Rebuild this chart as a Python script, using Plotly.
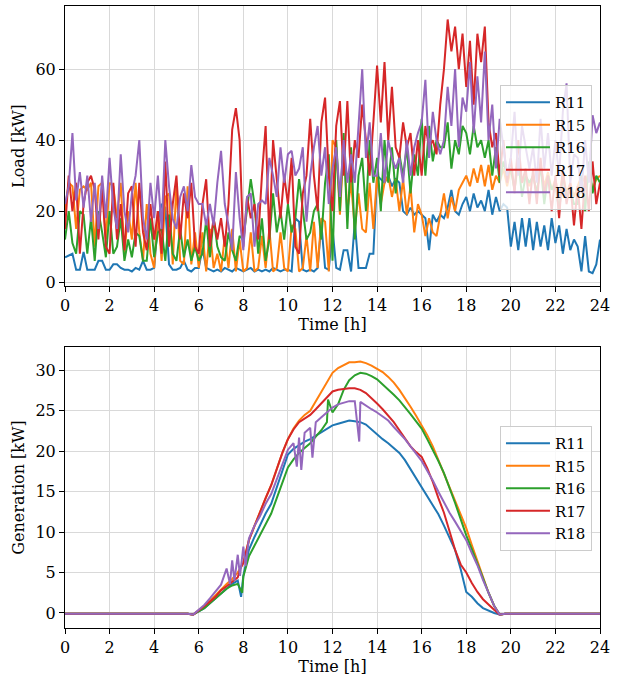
import numpy as np
import plotly.graph_objects as go

names = ["R11", "R15", "R16", "R17", "R18"]
colors = ["#1f77b4", "#ff7f0e", "#2ca02c", "#d62728", "#9467bd"]

# ---------------- Load data (kW), 10-min steps from 0 h to 24 h ----------------
R11_load = [7, 7.5, 8, 3.5, 3.5, 8.5, 3.5, 3.5, 3.5, 6, 6, 3.5,
            3.5, 5, 5, 4, 3.5, 3.5, 3, 4, 3.5, 6, 3.5, 3.5,
            4, 17, 22, 21, 5, 3.5, 3.5, 4, 6, 3.5, 3, 4,
            4, 9.5, 4, 3.5, 3, 3.5, 3, 4, 3.5, 3, 4, 3.5,
            3, 3.5, 4, 3, 3.5, 3, 3.5, 3, 4, 3.5, 3, 3.5,
            3.5, 3, 18, 17, 3.5, 3, 3.5, 3, 4, 16.5, 4, 3.5,
            15, 4, 3.5, 9, 9, 3, 17, 4, 4, 4, 8, 8,
            30, 29, 28, 30, 27, 29, 28, 20, 19, 21, 19, 20,
            19, 18, 9, 19, 17, 19, 18, 21, 26, 20, 19, 22,
            24, 20, 25, 21, 23, 20, 26, 19, 24, 20, 22, 21,
            10, 17, 9, 18, 10, 18, 9, 17, 10, 16, 9, 18,
            11, 16, 8, 15, 9, 12, 10, 3, 13, 3, 2.5, 5, 12]
R15_load = [20, 28, 27, 15, 26, 27, 26, 28, 10, 27, 28, 12,
            28, 27, 18, 28, 8, 20, 12, 28, 14, 6, 22, 8,
            4, 20, 6, 24, 25, 5, 28, 6, 5, 27, 5, 14,
            4, 14, 3, 15, 4, 8, 3, 13, 4, 15, 3, 12,
            3, 4, 14, 3, 4, 13, 4, 15, 3, 4, 14, 4,
            3, 16, 15, 3, 4, 13, 3, 17, 4, 18, 17, 3,
            40, 38, 19, 38, 20, 28, 15, 25, 15, 14, 28, 15,
            30, 22, 28, 30, 24, 29, 20, 29, 19, 27, 14, 22,
            19, 13, 18, 14, 13, 19, 25, 18, 24, 20, 26, 28,
            30, 27, 32, 28, 33, 27, 33, 26, 30, 28, 32, 27,
            32, 26, 34, 28, 30, 27, 30, 25, 33, 27, 31, 26,
            29, 24, 31, 25, 28, 24, 27, 30, 28, 31, 26, 29, 30]
R16_load = [12, 20, 11, 8, 20, 19, 8, 18, 6, 20, 14, 7,
            20, 8, 10, 18, 6, 12, 7, 14, 13, 6, 6, 18,
            7, 14, 15, 6, 19, 8, 6, 15, 7, 12, 6, 10,
            6, 8, 17.5, 7, 18, 10, 7, 6, 14, 9, 6, 13,
            12, 20, 29, 22, 8, 18, 6, 12, 25, 14, 20, 12,
            22, 14, 18, 29, 20, 12, 14, 20, 22, 12, 28, 36,
            6, 40, 20, 42, 15, 38, 12, 30, 35, 20, 40, 28,
            35, 20, 40, 28, 38, 25, 36, 30, 38, 25, 36, 30,
            46, 30, 44, 34, 40, 38, 38, 45, 32, 40, 36, 44,
            42, 36, 44, 38, 40, 35, 40, 30, 38, 28, 34, 30,
            32, 26, 35, 24, 30, 28, 30, 25, 33, 22, 30, 26,
            28, 20, 30, 24, 26, 22, 22, 30, 20, 34, 25, 30, 28]
R17_load = [15, 30, 20, 28, 8, 22, 28, 30, 26, 12, 27, 10,
            8, 28, 12, 22, 9, 25, 27, 10, 28, 14, 9, 22,
            12, 20, 8, 34, 10, 22, 30, 12, 25, 18, 28, 10,
            8, 22, 29, 10, 18, 12, 18, 10, 22, 43, 49, 40,
            10, 24, 18, 22, 12, 30, 44, 12, 40, 28, 18, 30,
            22, 35, 10, 8, 25, 30, 46, 30, 20, 45, 52, 30,
            20, 44, 51, 30, 51, 28, 40, 35, 50, 40, 30, 45,
            61, 45, 62, 40, 55, 38, 35, 45, 38, 42, 30, 40,
            30, 44, 38, 40, 36, 50, 60, 74, 65, 72, 60, 70,
            55, 68, 50, 70, 62, 72, 45, 38, 42, 30, 40, 28,
            35, 25, 40, 28, 32, 22, 32, 22, 35, 25, 30, 20,
            30, 18, 32, 22, 28, 16, 27, 15, 30, 20, 34, 22, 28]
R18_load = [22, 27, 42, 23, 31, 21, 30, 17, 28, 15, 30, 18,
            35, 21, 15, 36, 20, 14, 25, 30, 40, 18, 12, 28,
            18, 30, 15, 40, 27, 18, 15, 24, 27, 20, 33, 24,
            22, 22, 16, 22, 16, 28, 37, 22, 16, 9, 31, 18,
            9, 24, 25, 10, 22, 23, 22, 35, 30, 24, 38, 28,
            36, 37, 30, 32, 38, 17, 30, 38, 44, 30, 38, 22,
            32, 38, 24, 40, 28, 36, 28, 45, 60, 35, 45, 30,
            30, 42, 28, 40, 35, 32, 35, 28, 40, 30, 38, 42,
            45, 57, 35, 48, 40, 36, 40, 55, 44, 60, 38, 52,
            48, 62, 42, 58, 45, 65, 40, 50, 32, 46, 38, 30,
            35, 48, 30, 44, 38, 32, 38, 28, 46, 32, 42, 30,
            40, 30, 48, 56, 28, 36, 35, 25, 40, 28, 47, 42, 45]

# ---------------- Generation data (kW) ----------------
gen_time = [0, 5.5, 5.75, 6.0, 6.25, 6.5, 6.75, 7.0, 7.25, 7.5, 7.75, 8.0, 8.25, 8.5, 8.75,
            9.0, 9.25, 9.5, 9.75, 10.0, 10.25, 10.5, 10.75, 11.0, 11.25, 11.5, 11.75,
            12.0, 12.25, 12.5, 12.75, 13.0, 13.25, 13.5, 13.75, 14.0, 14.25, 14.5, 14.75,
            15.0, 15.25, 15.5, 15.75, 16.0, 16.25, 16.5, 16.75, 17.0, 17.25, 17.5, 17.75,
            18.0, 18.25, 18.5, 18.75, 19.0, 19.25, 19.5, 19.75, 24]
R11_gen = [-0.1, -0.1, -0.2, 0.2, 0.6, 1.2, 1.8, 2.5, 3.0, 3.6, 4.0, 4.6, 7.8, 9.4, 10.9,
           12.3, 13.5, 15.5, 17.7, 19.6, 20.3, 20.8, 21.2, 21.5, 21.9, 22.3, 22.7,
           23.2, 23.4, 23.6, 23.8, 23.7, 23.6, 23.3, 22.7, 22.0, 21.5, 21.0, 20.4,
           19.8, 18.9, 17.8, 16.7, 15.6, 14.5, 13.4, 12.2, 10.8, 9.3, 7.8, 5.4,
           2.6, 2.0, 1.2, 0.6, 0.3, 0.0, -0.2, -0.1, -0.1]
R15_gen = [-0.1, -0.1, -0.2, 0.3, 0.8, 1.5, 2.2, 3.0, 3.6, 4.2, 5.0, 6.2, 9.0, 10.8, 12.6,
           14.2, 15.8, 17.8, 19.8, 21.5, 22.8, 23.8, 24.5, 25.0, 26.2, 27.4, 28.6,
           29.7, 30.3, 30.7, 31.0, 31.0, 31.1, 30.9, 30.6, 30.2, 29.8, 29.2, 28.5,
           27.6, 26.6, 25.5, 24.4, 23.2, 22.0, 20.6, 18.9, 17.3, 15.6, 13.9, 12.2,
           10.5, 8.4, 6.4, 4.3, 2.5, 0.9, -0.2, -0.1, -0.1]
R16_gen = [-0.1, -0.1, -0.2, 0.2, 0.6, 1.2, 1.8, 2.4, 3.0, 3.4, 3.6, 4.5, 7.0, 8.3, 9.5,
           11.0, 12.3, 14.2, 16.2, 18.0, 19.0, 19.8, 20.4, 21.0, 21.8, 22.6, 23.6,
           24.8, 25.8, 27.6, 28.8, 29.4, 29.7, 29.6, 29.3, 28.9, 28.3, 27.7, 27.0,
           26.3, 25.5, 24.6, 23.7, 22.8, 21.5, 20.2, 18.8, 17.3, 15.5, 13.6, 11.6,
           9.6, 7.9, 6.2, 4.3, 2.5, 0.9, -0.2, -0.1, -0.1]
R17_gen = [-0.1, -0.1, -0.2, 0.3, 0.8, 1.4, 2.0, 2.8, 3.3, 3.8, 4.4, 6.2, 9.0, 10.8, 12.6,
           14.2, 15.8, 17.8, 19.8, 21.5, 22.7, 23.6, 24.1, 24.5, 25.2, 25.9, 26.7,
           27.4, 27.6, 27.7, 27.8, 27.8, 27.6, 27.2, 26.6, 25.9, 25.2, 24.4, 23.6,
           22.6, 21.6, 20.6, 19.9, 19.3, 17.9, 16.2, 14.2, 12.4, 10.1, 7.8, 6.0,
           5.0, 3.7, 2.6, 1.7, 1.0, 0.4, -0.2, -0.1, -0.1]
R18_gen = [-0.1, -0.1, -0.2, 0.4, 1.0, 1.8, 2.6, 3.5, 5.5, 6.5, 7.2, 8.2, 9.2, 10.8, 12.0,
           13.5, 14.7, 16.6, 18.5, 20.2, 21.0, 21.7, 22.3, 22.9, 23.6, 24.2, 24.8,
           25.4, 25.8, 26.0, 26.2, 26.2, 26.1, 25.6, 25.2, 24.8, 24.3, 23.8, 23.0,
           22.3, 21.5, 20.6, 19.7, 18.8, 17.6, 16.4, 15.0, 13.6, 12.4, 11.3, 10.2,
           9.0, 7.4, 5.9, 4.1, 2.4, 0.9, -0.2, -0.1, -0.1]

# short measurement glitches (time h, value kW)
gen_glitch_t = {"R11": [7.9], "R15": [], "R16": [7.95, 11.8],
                "R17": [7.85], "R18": [7.4, 7.6, 7.85, 8.1, 10.4, 10.6, 11.1, 13.2]}
gen_glitch_v = {"R11": [2.0], "R15": [], "R16": [2.5, 26.4],
                "R17": [5.4], "R18": [3.6, 4.0, 4.6, 5.8, 18.1, 17.7, 19.2, 21.2]}

load_data = [R11_load, R15_load, R16_load, R17_load, R18_load]
gen_data = [R11_gen, R15_gen, R16_gen, R17_gen, R18_gen]

FONT = "DejaVu Serif, Liberation Serif, Noto Serif, serif"
fig = go.Figure()

for n, c, y in zip(names, colors, load_data):
    t = np.linspace(0, 24, len(y))
    fig.add_trace(go.Scatter(x=t, y=y, mode="lines", name=n,
                             line=dict(color=c, width=2), xaxis="x", yaxis="y",
                             legend="legend", legendgroup="L" + n))

for n, c, y in zip(names, colors, gen_data):
    t = list(gen_time) + gen_glitch_t[n]
    v = list(y) + gen_glitch_v[n]
    order = np.argsort(t, kind="stable")
    t = np.array(t)[order]
    v = np.array(v)[order]
    fig.add_trace(go.Scatter(x=t, y=v, mode="lines", name=n,
                             line=dict(color=c, width=2), xaxis="x2", yaxis="y2",
                             legend="legend2", legendgroup="G" + n))

axis_common = dict(showline=True, linecolor="black", linewidth=1, mirror=True,
                   ticks="outside", ticklen=5, tickcolor="black", showgrid=True,
                   gridcolor="#d9d9d9", gridwidth=1, zeroline=False, automargin=False,
                   tickfont=dict(family=FONT, size=16, color="black"))

xt = list(range(0, 25, 2))
legend_common = dict(xanchor="right", yanchor="top", bgcolor="rgba(255,255,255,0.8)",
                     bordercolor="#cccccc", borderwidth=1, itemwidth=44,
                     font=dict(family=FONT, size=15), tracegroupgap=0)
fig.update_layout(
    width=622, height=676,
    margin=dict(l=65, r=22, t=6, b=48),
    paper_bgcolor="white", plot_bgcolor="white",
    hovermode=False,
    font=dict(family=FONT, size=16, color="black"),
    xaxis=dict(domain=[0, 1], anchor="y", range=[0, 24], tickvals=xt,
               title=dict(text="Time [h]", standoff=2, font=dict(family=FONT, size=16)),
               **axis_common),
    yaxis=dict(domain=[0.5498, 1], anchor="x", range=[-1.1, 77.8], tickvals=[0, 20, 40, 60],
               title=dict(text="Load [kW]", standoff=6, font=dict(family=FONT, size=16)),
               **axis_common),
    xaxis2=dict(domain=[0, 1], anchor="y2", range=[0, 24], tickvals=xt,
                title=dict(text="Time [h]", standoff=2, font=dict(family=FONT, size=16)),
                **axis_common),
    yaxis2=dict(domain=[0, 0.4518], anchor="x2", range=[-1.86, 32.9],
                tickvals=[0, 5, 10, 15, 20, 25, 30],
                title=dict(text="Generation [kW]", standoff=6, font=dict(family=FONT, size=16)),
                **axis_common),
    legend=dict(x=0.985, y=0.873, **legend_common),
    legend2=dict(x=0.985, y=0.3248, **legend_common),
)

fig.write_html("out.html", config={"displayModeBar": False},
               post_script="document.body.style.margin='0';")
